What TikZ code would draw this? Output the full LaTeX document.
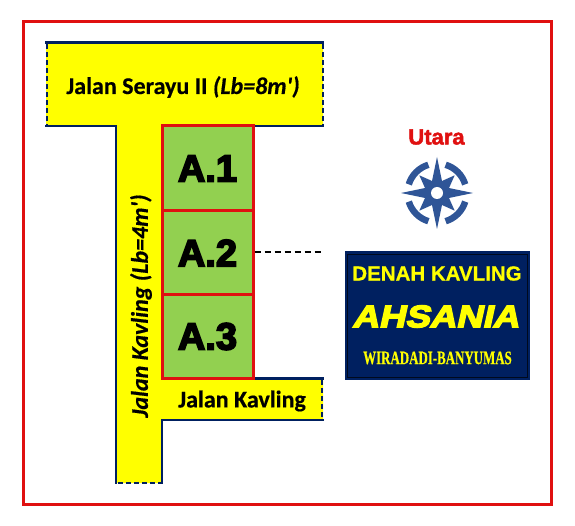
\documentclass[tikz,border=0pt]{standalone}
\usepackage{fontspec}
\setmainfont{Carlito}
\newfontfamily\arialb[FakeBold=4.5]{Liberation Sans Bold}
\newfontfamily\arialm[FakeBold=2]{Liberation Sans Bold}
\newfontfamily\arialn[FakeBold=0.6]{Liberation Sans Bold}
\newfontfamily\arialbi[FakeBold=5,FakeSlant=0.22,FakeStretch=1.18]{Liberation Sans Bold}
\newfontfamily\timesb[FakeStretch=0.68,FakeBold=0.5]{Liberation Serif Bold}
\newfontfamily\carlb[FakeBold=0.5]{Carlito Bold}
\newfontfamily\carlbi[FakeBold=0.5]{Carlito Bold Italic}
\definecolor{navy}{HTML}{002060}
\definecolor{framered}{HTML}{E01010}
\definecolor{roady}{HTML}{FFFF00}
\definecolor{lotg}{HTML}{92D050}
\definecolor{compass}{HTML}{2F5597}
\tikzset{
 x=1pt,y=-1pt,
 frame/.style={draw=framered,line width=3pt},
 edge/.style={draw=navy,line width=2.4pt},
 openend/.style={draw=navy,line width=2pt,dash pattern=on 5pt off 3pt},
 lot/.style={draw=framered,line width=3pt,fill=lotg,minimum width=91pt,inner sep=0pt,font=\arialb\fontsize{38}{38}\selectfont,text=black},
 roadlabel/.style={font=\carlb\fontsize{24}{26}\selectfont,text=black,inner sep=0pt},
 panel/.style={draw=navy,line width=1pt,fill=navy,inner sep=0pt},
 paneltext/.style={text=roady,inner sep=0pt},
 link/.style={draw=black,line width=1.4pt,dash pattern=on 6pt off 4pt},
 ring/.style={draw=compass,line width=6.5pt}
}
\begin{document}
\begin{tikzpicture}
\useasboundingbox (0,0) rectangle (575,526);
\fill[white] (0,0) rectangle (575,526);
\draw[frame] (23,21.5) rectangle (551,504);
% roads
\fill[roady] (46,42) -- (323,42) -- (323,126) -- (162,126) -- (162,378) -- (323,378) -- (323,420) -- (162,420) -- (162,483) -- (116,483) -- (116,126) -- (46,126) -- cycle;
\draw[edge] (45,42.5) -- (324,42.5);
\draw[edge] (45,126) -- (116,126) -- (116,484);
\draw[edge] (253,126) -- (324,126);
\draw[edge] (253,378.5) -- (324,378.5);
\draw[edge] (324,420) -- (162,420) -- (162,484);
\draw[openend] (46.5,44) -- (46.5,125);
\draw[openend] (322.5,44) -- (322.5,125);
\draw[openend] (322,380) -- (322,419);
\draw[openend] (118,483) -- (161,483);
% lots
\node[lot,minimum height=85pt] (a1) at (207.5,168.5) {A.1};
\node[lot,minimum height=84pt] (a2) at (207.5,253) {A.2};
\node[lot,minimum height=83pt] (a3) at (207.5,336.5) {A.3};
% labels
\node[roadlabel] (serayu) at (183,87) {Jalan Serayu II {\carlbi (Lb=8m')}};
\node[roadlabel,rotate=90,font=\carlbi\fontsize{24}{26}\selectfont] (stem) at (141,306) {Jalan Kavling (Lb=4m')};
\node[roadlabel] (branch) at (242,401) {Jalan Kavling};
% compass
\node[font=\arialm\fontsize{22}{22}\selectfont,text=framered,inner sep=0pt] (north) at (436.5,137) {Utara};
\coordinate (c) at (437,193);
\foreach \a in {0,90,180,270}
  \draw[ring] ([shift={(\a+17:29.5)}]c) arc[start angle=\a+17,end angle=\a+73,radius=29.5pt,y radius=-29.5pt];
\fill[compass] ([shift={(0:36)}]c)
  -- ([shift={(22.5:13)}]c) -- ([shift={(45:25)}]c) -- ([shift={(67.5:13)}]c)
  -- ([shift={(90:36)}]c)
  -- ([shift={(112.5:13)}]c) -- ([shift={(135:25)}]c) -- ([shift={(157.5:13)}]c)
  -- ([shift={(180:36)}]c)
  -- ([shift={(202.5:13)}]c) -- ([shift={(225:25)}]c) -- ([shift={(247.5:13)}]c)
  -- ([shift={(270:36)}]c)
  -- ([shift={(292.5:13)}]c) -- ([shift={(315:25)}]c) -- ([shift={(337.5:13)}]c)
  -- cycle;
\fill[white] (c) circle[radius=6pt];
% panel
\node[panel,minimum width=184pt,minimum height=127pt] (box) at (437,315.5) {};
\draw[black!70!navy,line width=0.6pt] (347,254.5) rectangle (527,377);
\node[paneltext,font=\arialn\fontsize{20.5}{22}\selectfont] (t1) at (437,273.5) {DENAH KAVLING};
\node[paneltext,font=\arialbi\fontsize{31}{32}\selectfont] (t2) at (435.5,316.5) {AHSANIA};
\node[paneltext,font=\timesb\fontsize{19}{20}\selectfont] (t3) at (437.5,358) {WIRADADI-BANYUMAS};
% connector
\coordinate (linkend) at (323,252);
\draw[link] (a2.east |- linkend) -- (linkend);
\end{tikzpicture}
\end{document}
